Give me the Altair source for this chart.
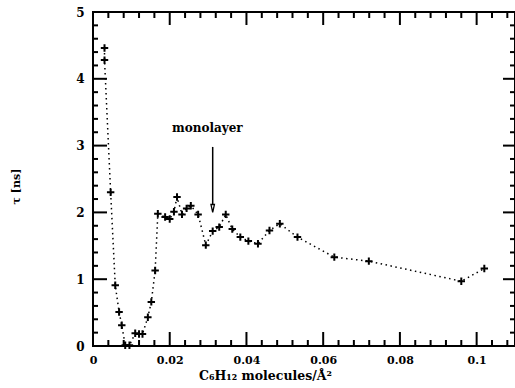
import altair as alt
import pandas as pd

# data
x_vals = [0.0030, 0.0030, 0.0046, 0.0058, 0.0068, 0.0075, 0.0084, 0.0095, 0.0110, 0.0120,
          0.0129, 0.0143, 0.0152, 0.0162, 0.0169, 0.0188, 0.0200, 0.0211, 0.0219, 0.0232,
          0.0244, 0.0255, 0.0274, 0.0294, 0.0312, 0.0329, 0.0346, 0.0363, 0.0384, 0.0405,
          0.0430, 0.0460, 0.0487, 0.0533, 0.0629, 0.0719, 0.0960, 0.1020]
tau_vals = [4.46, 4.28, 2.30, 0.91, 0.51, 0.31, 0.01, 0.01, 0.19, 0.18,
            0.18, 0.43, 0.66, 1.13, 1.98, 1.93, 1.90, 2.01, 2.23, 1.97,
            2.06, 2.10, 1.97, 1.51, 1.72, 1.78, 1.97, 1.75, 1.63, 1.57,
            1.53, 1.73, 1.83, 1.63, 1.33, 1.27, 0.97, 1.16]

x_major = [0, 0.02, 0.04, 0.06, 0.08, 0.1]
x_minor = [0.004, 0.008, 0.012, 0.016, 0.024, 0.028, 0.032, 0.036, 0.044, 0.048, 0.052,
           0.056, 0.064, 0.068, 0.072, 0.076, 0.084, 0.088, 0.092, 0.096, 0.104, 0.108]
y_major = [0, 1, 2, 3, 4, 5]
y_minor = [0.2, 0.4, 0.6, 0.8, 1.2, 1.4, 1.6, 1.8, 2.2, 2.4, 2.6, 2.8, 3.2, 3.4, 3.6, 3.8,
           4.2, 4.4, 4.6, 4.8]

arrow_x = [0.0312]
arrow_top = [2.98]
arrow_bottom = [2.12]
arrow_head = [2.06]
label_text = ["monolayer"]
label_x = [0.0298]
label_y = [3.27]

W, H = 422, 334
FONT = "DejaVu Serif"

df = pd.DataFrame({"x": x_vals, "tau": tau_vals, "order": list(range(len(x_vals)))})
xs = alt.Scale(domain=[0, 0.11], nice=False, zero=False)
ys = alt.Scale(domain=[0, 5], nice=False, zero=False)

line = alt.Chart(df).mark_line(color="black", strokeDash=[1.5, 3.5], strokeWidth=1.5).encode(
    x=alt.X("x:Q", scale=xs, axis=alt.Axis(
        values=x_major, format="~g", ticks=False, domain=False, grid=False,
        labelFont=FONT, labelFontWeight="bold", labelFontSize=11, labelColor="black",
        labelPadding=8, labelFlush=False,
        title="C₆H₁₂ molecules/Å²", titleFont=FONT, titleFontWeight="bold",
        titleFontSize=12.5, titleColor="black", titleX=172, titleY=29, titleBaseline="middle")),
    y=alt.Y("tau:Q", scale=ys, axis=alt.Axis(
        values=y_major, format="d", ticks=False, domain=False, grid=False,
        labelFont=FONT, labelFontWeight="bold", labelFontSize=12, labelColor="black",
        labelPadding=9, labelFlush=False,
        title="τ [ns]", titleFont=FONT, titleFontWeight="bold", titleFontSize=11,
        titleColor="black", titleX=-77, titleY=174, titleBaseline="middle")),
    order="order:Q",
)

pts = alt.Chart(df).mark_point(
    shape="M-1,0H1M0,-1V1", filled=False, color="black", strokeWidth=2, size=55, opacity=1
).encode(x=alt.X("x:Q", scale=xs), y=alt.Y("tau:Q", scale=ys))

adf = pd.DataFrame({"x": arrow_x, "top": arrow_top, "bot": arrow_bottom, "head": arrow_head})
arrow = alt.Chart(adf).mark_rule(color="black", strokeWidth=1.5).encode(
    x=alt.X("x:Q", scale=xs), y=alt.Y("top:Q", scale=ys), y2="bot:Q")
head = alt.Chart(adf).mark_point(
    shape="M-0.45,-1L0.45,-1L0,1Z", filled=True, fill="white", stroke="black",
    strokeWidth=1.3, size=60, opacity=1
).encode(x=alt.X("x:Q", scale=xs), y=alt.Y("head:Q", scale=ys))

tdf = pd.DataFrame({"t": label_text, "x": label_x, "y": label_y})
label = alt.Chart(tdf).mark_text(font=FONT, fontWeight="bold", fontSize=12, color="black").encode(
    x=alt.X("x:Q", scale=xs), y=alt.Y("y:Q", scale=ys), text="t:N")

def xticks(vals, length, top, sw):
    d = pd.DataFrame({"v": vals})
    if top:
        yy, yy2 = alt.value(0), alt.value(length)
    else:
        yy, yy2 = alt.value(H), alt.value(H - length)
    return alt.Chart(d).mark_rule(color="black", strokeWidth=sw).encode(
        x=alt.X("v:Q", scale=xs), y=yy, y2=yy2)

def yticks(vals, length, right, sw):
    d = pd.DataFrame({"v": vals})
    if right:
        xx, xx2 = alt.value(W), alt.value(W - length)
    else:
        xx, xx2 = alt.value(0), alt.value(length)
    return alt.Chart(d).mark_rule(color="black", strokeWidth=sw).encode(
        y=alt.Y("v:Q", scale=ys), x=xx, x2=xx2)

ticks = [
    xticks(x_major, 14, False, 2), xticks(x_minor, 6, False, 2),
    xticks(x_major, 13, True, 2), xticks(x_minor, 6, True, 2),
    yticks(y_major, 14, False, 2), yticks(y_minor, 5, False, 2),
    yticks(y_major, 12, True, 2), yticks(y_minor, 5, True, 2),
]

chart = alt.layer(line, *ticks, pts, arrow, head, label).properties(
    width=W, height=H,
    padding={"left": 93, "top": 12, "right": 0, "bottom": 42},
    autosize=alt.AutoSizeParams(type="none"),
    background="white",
).configure_view(stroke="black", strokeWidth=2)

chart.save("out.html", embed_options={"renderer": "svg", "actions": False})
